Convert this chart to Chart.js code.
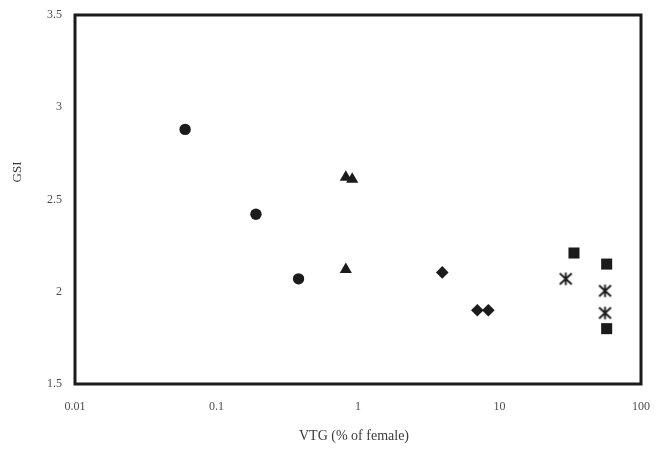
<!DOCTYPE html>
<html>
<head>
<meta charset="utf-8">
<script src="https://cdn.jsdelivr.net/npm/chart.js@4/dist/chart.umd.min.js"></script>
<style>
  html, body { margin: 0; padding: 0; background: #ffffff; }
  #wrap { width: 660px; height: 452px; }
</style>
</head>
<body>
<div id="wrap"><canvas id="c" width="660" height="452"></canvas></div>
<script>
// VTG (% of female) on a log axis against GSI, one group per marker shape
const circleVTG   = [0.06, 0.19, 0.38];
const circleGSI   = [2.88, 2.42, 2.07];
const triangleVTG = [0.82, 0.91, 0.82];
const triangleGSI = [2.62, 2.61, 2.12];
const diamondVTG  = [3.94, 6.97, 8.34];
const diamondGSI  = [2.105, 1.90, 1.90];
const squareVTG   = [33.6, 57.2, 57.2];
const squareGSI   = [2.21, 2.15, 1.80];
const starVTG     = [29.4, 55.7, 55.7];
const starGSI     = [2.07, 2.005, 1.885];

const xTickValues = [0.01, 0.1, 1, 10, 100];
const yTickValues = [1.5, 2, 2.5, 3, 3.5];
const xTitle = 'VTG (% of female)';
const yTitle = 'GSI';

const ink = '#1c1a1b';
const serif = '"Liberation Serif", "Times New Roman", serif';

function toPoints(xs, ys) {
  return xs.map((x, i) => ({ x: x, y: ys[i] }));
}

// asterisk marker: an X crossed by a vertical bar
function asteriskMarker() {
  const s = 15;
  const cv = document.createElement('canvas');
  cv.width = s; cv.height = s;
  const g = cv.getContext('2d');
  g.strokeStyle = ink;
  g.lineWidth = 1.9;
  g.lineCap = 'butt';
  g.beginPath();
  g.moveTo(1.5, 2); g.lineTo(13.5, 13);
  g.moveTo(13.5, 2); g.lineTo(1.5, 13);
  g.moveTo(7.5, 1.2); g.lineTo(7.5, 13.8);
  g.stroke();
  return cv;
}

function series(label, xs, ys, style, radius) {
  return {
    label: label,
    data: toPoints(xs, ys),
    pointStyle: style,
    pointRadius: radius,
    pointHoverRadius: radius,
    backgroundColor: ink,
    borderColor: ink,
    borderWidth: 0,
    showLine: false
  };
}

// frame around the plot area and the two axis titles
const framePlugin = {
  id: 'frame',
  beforeDatasetsDraw(chart) {
    const a = chart.chartArea;
    const ctx = chart.ctx;
    ctx.save();
    ctx.strokeStyle = ink;
    ctx.lineWidth = 3;
    ctx.strokeRect(a.left, a.top, a.right - a.left, a.bottom - a.top);
    ctx.restore();
  },
  afterDraw(chart) {
    const a = chart.chartArea;
    const ctx = chart.ctx;
    ctx.save();
    ctx.fillStyle = '#3a3a3a';
    ctx.font = '14px ' + serif;
    ctx.textAlign = 'center';
    ctx.textBaseline = 'middle';
    ctx.fillText(xTitle, (a.left + a.right) / 2 - 4, a.bottom + 52);
    ctx.translate(a.left - 57, a.top + 157);
    ctx.rotate(-Math.PI / 2);
    ctx.font = '13px ' + serif;
    ctx.fillText(yTitle, 0, 0);
    ctx.restore();
  }
};

new Chart(document.getElementById('c'), {
  type: 'scatter',
  data: {
    datasets: [
      series('Group 1', circleVTG, circleGSI, 'circle', 5.7),
      series('Group 2', triangleVTG, triangleGSI, 'triangle', 7),
      series('Group 3', diamondVTG, diamondGSI, 'rectRot', 6.3),
      series('Group 4', squareVTG, squareGSI, 'rect', 7.8),
      series('Group 5', starVTG, starGSI, asteriskMarker(), 7)
    ]
  },
  options: {
    responsive: false,
    animation: false,
    devicePixelRatio: 1,
    layout: { padding: { left: 0, right: 19, top: 15, bottom: 0 } },
    plugins: {
      legend: { display: false },
      tooltip: { enabled: false }
    },
    scales: {
      x: {
        type: 'logarithmic',
        min: 0.01,
        max: 100,
        afterBuildTicks(scale) {
          scale.ticks = xTickValues.map(v => ({ value: v }));
        },
        afterFit(scale) {
          scale.height = 68;
          scale.paddingLeft = 0;
          scale.paddingRight = 0;
        },
        grid: { display: false, drawTicks: false },
        border: { display: false },
        ticks: {
          autoSkip: false,
          maxRotation: 0,
          padding: 16,
          color: '#4d4d4d',
          font: { family: serif, size: 12 },
          callback: (v) => String(v)
        }
      },
      y: {
        type: 'linear',
        min: 1.5,
        max: 3.5,
        afterBuildTicks(scale) {
          scale.ticks = yTickValues.map(v => ({ value: v }));
        },
        afterFit(scale) {
          scale.width = 75;
          scale.paddingTop = 0;
          scale.paddingBottom = 0;
        },
        grid: { display: false, drawTicks: false },
        border: { display: false },
        ticks: {
          padding: 13,
          color: '#4d4d4d',
          font: { family: serif, size: 12 },
          callback: (v) => String(v)
        }
      }
    }
  },
  plugins: [framePlugin]
});
</script>
</body>
</html>
